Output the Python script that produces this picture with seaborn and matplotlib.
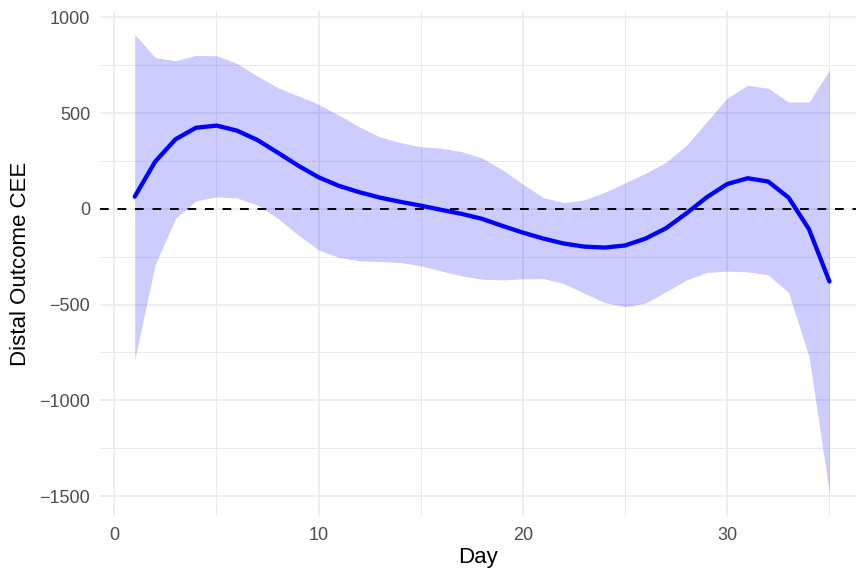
import numpy as np
import pandas as pd
import matplotlib
matplotlib.use("Agg")
import matplotlib.pyplot as plt
import seaborn as sns

# values
day = list(range(1, 36))
cee = [64, 247, 364, 424, 435, 409, 360, 294, 226, 165,
       120, 87, 59, 37, 17, -5, -26, -52, -89, -124,
       -155, -181, -197, -202, -191, -155, -101, -23, 61, 130,
       160, 143, 59, -106, -379]
upper = [912, 790, 774, 802, 800, 760, 694, 633, 591, 546,
         489, 428, 376, 346, 325, 317, 299, 266, 204, 129,
         59, 33, 47, 87, 136, 186, 244, 332, 456, 579,
         646, 630, 558, 558, 725]
lower = [-788, -292, -49, 42, 63, 57, 21, -49, -136, -214,
         -254, -271, -275, -280, -297, -324, -350, -367, -371, -365,
         -364, -390, -440, -489, -511, -492, -433, -371, -332, -325,
         -329, -344, -437, -771, -1484]

df = pd.DataFrame({"Day": day, "CEE": cee, "lower": lower, "upper": upper})

sns.set_theme(style="white")
plt.rcParams["font.family"] = ["Liberation Sans", "DejaVu Sans"]

fig = plt.figure(figsize=(8.56, 5.71), dpi=100)
ax = fig.add_axes([0.1168, 0.0963, 0.8832, 0.8839])

# grid like theme_minimal
for v in [0, 10, 20, 30]:
    ax.axvline(v, color="#EBEBEB", lw=1.2, zorder=0)
for v in [5, 15, 25, 35]:
    ax.axvline(v, color="#EBEBEB", lw=0.7, zorder=0)
for v in [-1500, -1000, -500, 0, 500, 1000]:
    ax.axhline(v, color="#EBEBEB", lw=1.2, zorder=0)
for v in [-1250, -750, -250, 250, 750]:
    ax.axhline(v, color="#EBEBEB", lw=0.7, zorder=0)

ax.fill_between(df["Day"], df["lower"], df["upper"], color="blue", alpha=0.2, lw=0, zorder=1)
ax.axhline(0, color="black", lw=1.4, ls=(0, (4.5, 4.5)), zorder=2)
sns.lineplot(data=df, x="Day", y="CEE", color="blue", lw=3.1, ax=ax, zorder=3)

ax.set_xlim(-0.7, 36.3)
ax.set_ylim(-1604, 1032)
ax.set_xticks([0, 10, 20, 30])
ax.set_yticks([-1500, -1000, -500, 0, 500, 1000])
for s in ax.spines.values():
    s.set_visible(False)
ax.tick_params(axis="x", length=0, pad=8, labelsize=13, labelcolor="#4D4D4D")
ax.tick_params(axis="y", length=0, pad=7, labelsize=13, labelcolor="#4D4D4D")
ax.set_xlabel("Day", fontsize=16, color="black", labelpad=2)
ax.set_ylabel("Distal Outcome CEE", fontsize=16, color="black", labelpad=6)

fig.savefig("out.png", dpi=100)
